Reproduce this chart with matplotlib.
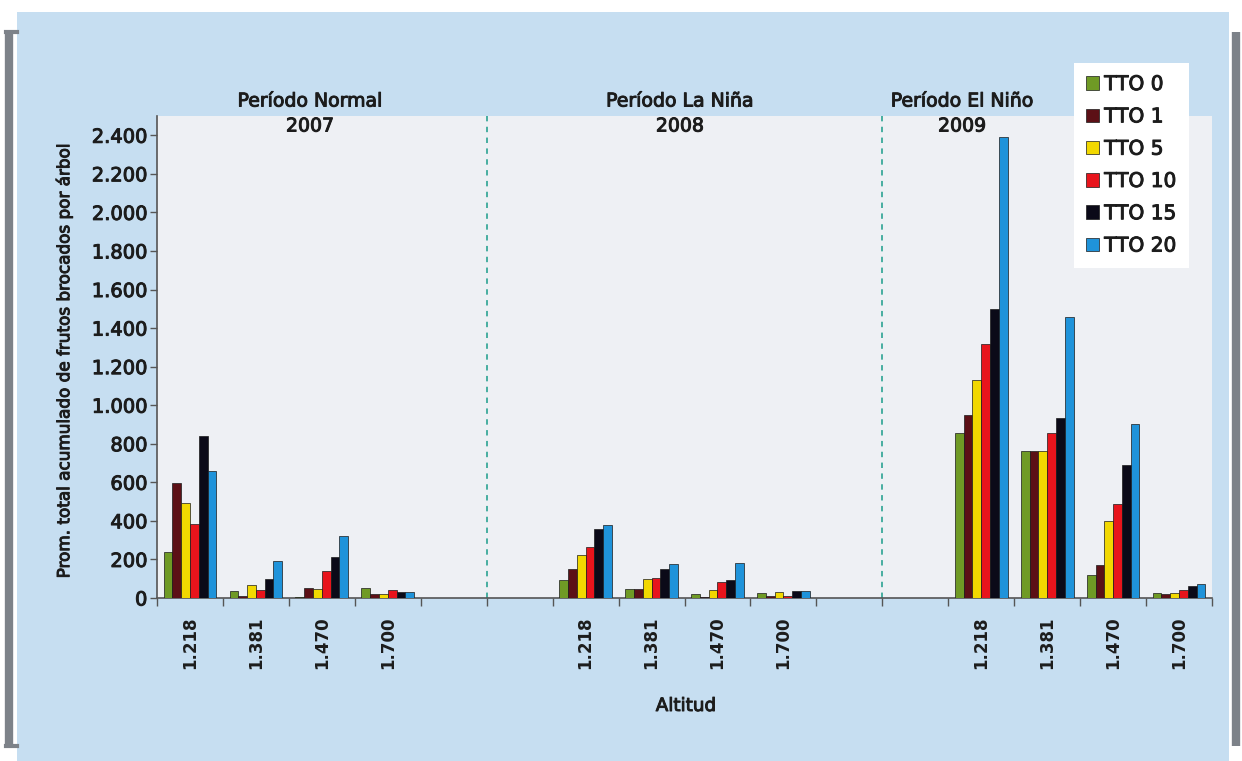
import matplotlib
matplotlib.use("Agg")
import matplotlib.pyplot as plt
import matplotlib.transforms as mtransforms
import matplotlib.patheffects as pe
import numpy as np
from matplotlib.patches import Rectangle
from matplotlib.ticker import FuncFormatter, FixedLocator

plt.rcParams['font.family'] = ['DejaVu Sans']

# Altitude slots per period (two empty slots separate the periods)
altitudes = ["1.218", "1.381", "1.470", "1.700"]
periods = ["Período Normal", "Período La Niña", "Período El Niño"]
years = ["2007", "2008", "2009"]
treatments = ["TTO 0", "TTO 1", "TTO 5", "TTO 10", "TTO 15", "TTO 20"]
colors = ["#6f9a25", "#5c1016", "#f2d800", "#e8141c", "#0b0a18", "#1f93da"]

# Mean accumulated bored fruits per tree, one list per treatment,
# ordered Normal(4 altitudes), La Niña(4), El Niño(4)
tto0  = [237, 36, 5, 53,    91, 49, 22, 27,    855, 760, 120, 28]
tto1  = [594, 12, 50, 21,   151, 48, 6, 9,     950, 765, 170, 22]
tto5  = [494, 67, 47, 22,   224, 96, 39, 32,   1130, 760, 400, 28]
tto10 = [382, 41, 140, 40,  262, 106, 84, 9,   1320, 855, 490, 42]
tto15 = [841, 100, 211, 33, 360, 151, 91, 37,  1500, 935, 690, 62]
tto20 = [660, 192, 323, 33, 377, 174, 180, 34, 2390, 1455, 905, 72]
series = [tto0, tto1, tto5, tto10, tto15, tto20]

# slot positions: 4 altitudes, 2 blanks, 4 altitudes, 2 blanks, 4 altitudes
slot_pos = [0, 1, 2, 3, 6, 7, 8, 9, 12, 13, 14, 15]
n_slots = 16
slot_labels = [""] * n_slots
for i, p in enumerate(slot_pos):
    slot_labels[p] = altitudes[i % 4]

TXT = "#1c1c1c"
# medium-weight look: regular glyphs with a thin outline of the same colour
MED = [pe.withStroke(linewidth=0.7, foreground=TXT)]

W, H = 1242, 761
fig = plt.figure(figsize=(W / 100, H / 100), dpi=100, facecolor="white")

# page panel and border, kept behind the axes
bg = fig.add_axes([0, 0, 1, 1], zorder=-10)
bg.set_xlim(0, W)
bg.set_ylim(H, 0)
bg.axis("off")
bg.add_patch(Rectangle((17, 12), 1229 - 17, H - 12, facecolor="#c6def1",
                       edgecolor="none"))
for x0 in (9, 1236):
    bg.plot([x0, x0], [32, 746], color="#7d8289", lw=6, solid_capstyle="butt")
bg.plot([6, 17], [32, 32], color="#7d8289", lw=3)
bg.plot([6, 17], [746, 746], color="#7d8289", lw=3)

ax = fig.add_axes([157 / W, 1 - 598 / H, (1212 - 157) / W, (598 - 116) / H])
ax.set_facecolor("#eef0f4")

n = len(series)
group_w = 0.8
bw = group_w / n
x = np.array(slot_pos, dtype=float)
for k, (vals, c, lab) in enumerate(zip(series, colors, treatments)):
    off = -group_w / 2 + bw * (k + 0.5)
    ax.bar(x + off, vals, width=bw, color=c, edgecolor="#1a1a1a",
           linewidth=0.5, label=lab, zorder=3)

ax.set_xlim(-0.5, n_slots - 0.5)
ax.set_ylim(0, 2500)

# y axis
ax.set_yticks(np.arange(0, 2401, 200))
ax.yaxis.set_major_formatter(FuncFormatter(lambda v, p: f"{int(v):,}".replace(",", ".")))
ax.tick_params(axis="y", direction="out", length=5, width=1, color="#555555",
               labelsize=14, labelcolor=TXT, pad=2)
for t in ax.get_yticklabels():
    t.set_path_effects(MED)

# x axis: labels at slot centres, tick marks between slots
ax.set_xticks(np.arange(n_slots))
ax.set_xticklabels(slot_labels, rotation=90, fontsize=12, fontweight="bold",
                   color=TXT)
ax.tick_params(axis="x", which="major", length=0, pad=13)
ax.xaxis.set_minor_locator(FixedLocator(np.arange(-0.5, n_slots, 1.0)))
ax.tick_params(axis="x", which="minor", direction="out", length=6, width=1,
               color="#555555")

for s in ("top", "right"):
    ax.spines[s].set_visible(False)
for s in ("left", "bottom"):
    ax.spines[s].set_color("#555555")
    ax.spines[s].set_linewidth(1.2)

# period separators
for xs in (4.5, 10.5):
    ax.axvline(xs, color="#3aa89a", lw=1.3, ls=(0, (3, 3)), zorder=2)

# period titles above the plot area
title_x = [1.82, 7.43, 11.71]
tr = mtransforms.blended_transform_factory(ax.transData, fig.transFigure)
for tx, pname, yr in zip(title_x, periods, years):
    ax.text(tx, 1 - 101 / H, pname, transform=tr, ha="center", va="center",
            fontsize=13.6, color=TXT, clip_on=False, path_effects=MED)
    ax.text(tx, 1 - 126 / H, yr, transform=tr, ha="center", va="center",
            fontsize=13.6, color=TXT, clip_on=False, path_effects=MED)

fig.text(64 / W, 1 - 362 / H, "Prom. total acumulado de frutos brocados por árbol",
         rotation=90, ha="center", va="center", fontsize=12.1, color=TXT,
         path_effects=MED)
fig.text(686 / W, 1 - 706 / H, "Altitud", ha="center", va="center",
         fontsize=13.2, color=TXT, path_effects=MED)

leg = ax.legend(loc="upper left", bbox_to_anchor=(1074 / W, 1 - 63 / H),
                bbox_transform=fig.transFigure, frameon=True, fancybox=False,
                facecolor="white", edgecolor="none", framealpha=1,
                fontsize=14.5, handlelength=0.65, handleheight=0.65,
                handletextpad=0.25, labelspacing=0.66, borderpad=0.6,
                borderaxespad=0)
for t in leg.get_texts():
    t.set_color(TXT)
    t.set_path_effects(MED)

fig.savefig("out.png", dpi=100, facecolor=fig.get_facecolor())
